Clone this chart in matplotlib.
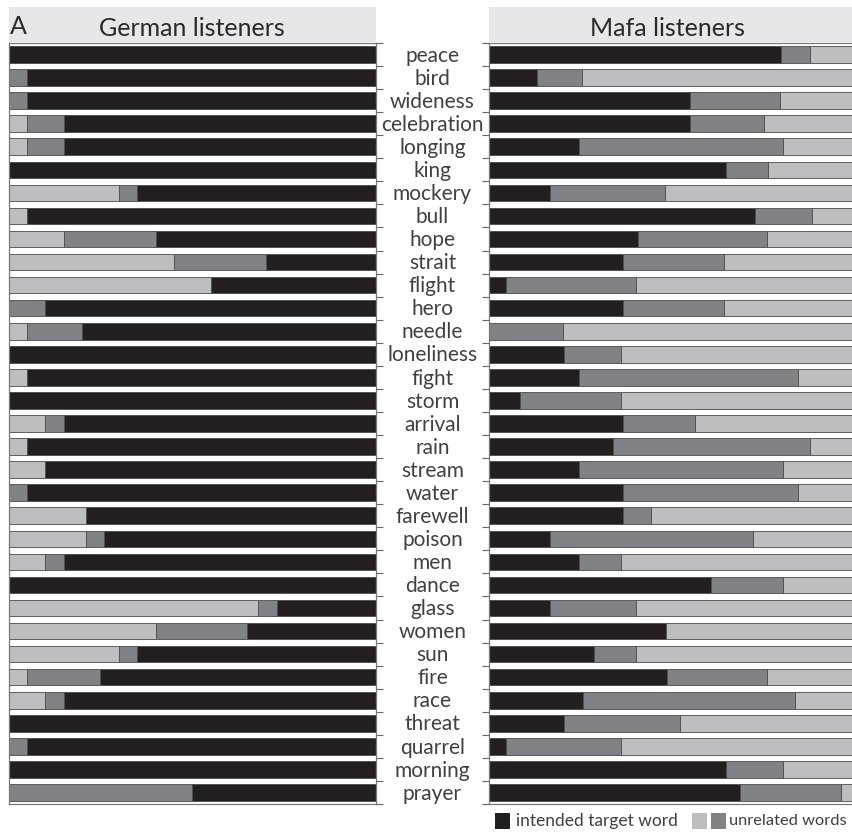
import matplotlib
matplotlib.use("Agg")
import matplotlib.pyplot as plt
from matplotlib.patches import Rectangle
from matplotlib.transforms import blended_transform_factory

words = ["peace", "bird", "wideness", "celebration", "longing", "king", "mockery",
         "bull", "hope", "strait", "flight", "hero", "needle", "loneliness", "fight",
         "storm", "arrival", "rain", "stream", "water", "farewell", "poison", "men",
         "dance", "glass", "women", "sun", "fire", "race", "threat", "quarrel",
         "morning", "prayer"]

german_target = [100, 95, 95, 85, 85, 100, 65, 95, 60, 30, 45, 90, 80, 100, 95,
                 100, 85, 95, 90, 95, 79, 74, 85, 100, 27, 35, 65, 75, 85, 100, 95,
                 100, 50]
german_dark = [0, 5, 5, 10, 10, 0, 5, 0, 25, 25, 0, 10, 15, 0, 0,
               0, 5, 0, 0, 5, 0, 5, 5, 0, 5, 25, 5, 20, 5, 0, 5,
               0, 50]
german_light = [0, 0, 0, 5, 5, 0, 30, 5, 15, 45, 55, 0, 5, 0, 5,
                0, 10, 5, 10, 0, 21, 21, 10, 0, 68, 40, 30, 5, 10, 0, 0,
                0, 0]

mafa_target = [80.4, 13.1, 55.2, 55.2, 24.6, 65.2, 16.6, 73.2, 40.9, 36.8, 4.6,
               36.8, 0.0, 20.5, 24.6, 8.5, 36.8, 34.0, 24.6, 36.8, 36.8, 16.6,
               24.6, 61.0, 16.6, 48.6, 28.8, 48.9, 25.7, 20.5, 4.6, 65.2, 69.1]
mafa_dark = [8.1, 12.4, 24.9, 20.6, 56.3, 11.6, 31.9, 15.9, 35.8, 28.0, 35.8,
             28.0, 20.2, 15.9, 60.4, 27.9, 19.9, 54.5, 56.3, 48.3, 7.7, 56.2,
             11.8, 19.9, 23.8, 0.0, 11.7, 27.8, 58.5, 32.0, 31.8, 15.7, 27.9]
mafa_light = [100 - t - d for t, d in zip(mafa_target, mafa_dark)]

panel_titles = ["German listeners", "Mafa listeners"]
legend_labels = ["intended target word", "unrelated words"]

C_BLACK = "#231f20"
C_DARK = "#808285"
C_LIGHT = "#bcbec0"
C_TITLE = "#e6e7e8"
C_TEXT = "#404040"
FONT = ["Lato", "DejaVu Sans"]

W, H = 852, 834
fig = plt.figure(figsize=(W / 100, H / 100), dpi=100)

def fx(px):
    return px / W

def fy(py):
    return 1 - py / H

ax_top, ax_bot = 43, 804
ax1 = fig.add_axes([fx(8.7), fy(ax_bot), fx(375.7) - fx(8.7), fy(ax_top) - fy(ax_bot)])
ax2 = fig.add_axes([fx(489.3), fy(ax_bot), fx(852) - fx(489.3), fy(ax_top) - fy(ax_bot)])

n = len(words)
ypos = [i + 0.5 for i in range(n)]
bh = 0.72
ekw = dict(edgecolor="#4a4a4a", linewidth=0.6)

# German: black anchored at right edge (inverted x axis)
ax1.barh(ypos, german_target, height=bh, color=C_BLACK, **ekw)
ax1.barh(ypos, german_dark, left=german_target, height=bh, color=C_DARK, **ekw)
left_l = [t + d for t, d in zip(german_target, german_dark)]
ax1.barh(ypos, german_light, left=left_l, height=bh, color=C_LIGHT, **ekw)
ax1.set_xlim(100, 0)

# Mafa
ax2.barh(ypos, mafa_target, height=bh, color=C_BLACK, **ekw)
ax2.barh(ypos, mafa_dark, left=mafa_target, height=bh, color=C_DARK, **ekw)
left_m = [t + d for t, d in zip(mafa_target, mafa_dark)]
ax2.barh(ypos, mafa_light, left=left_m, height=bh, color=C_LIGHT, **ekw)
ax2.set_xlim(0, 100)

for ax in (ax1, ax2):
    ax.set_ylim(n, 0)
    ax.set_xticks([])
    ax.set_yticks(range(n + 1))
    ax.set_yticklabels([])
    ax.tick_params(axis="y", length=5.2, width=0.8, color="#666666")
    for s in ax.spines.values():
        s.set_color("#7a7a7a")
        s.set_linewidth(0.9)
    ax.spines["top"].set_visible(False)

ax1.yaxis.tick_right()
ax2.spines["right"].set_visible(False)

# title boxes
for (x0, x1), title, cx in zip([(8.7, 375.7), (489.3, 852)], panel_titles, [192, 667]):
    fig.patches.append(Rectangle((fx(x0), fy(42)), fx(x1) - fx(x0), fy(7) - fy(42),
                                 transform=fig.transFigure, facecolor=C_TITLE,
                                 edgecolor="none", zorder=0))
    fig.lines.append(plt.Line2D([fx(x0), fx(x1)], [fy(42.5), fy(42.5)],
                                transform=fig.transFigure, color="#7a7a7a", lw=0.9))
    fig.text(fx(cx), fy(36), title, ha="center", va="baseline", fontsize=18,
             family=FONT, color="#2a2a2a")

fig.text(fx(10), fy(34), "A", ha="left", va="baseline", fontsize=18,
         family=FONT, color="#2a2a2a")

# word labels in the middle
tr = blended_transform_factory(fig.transFigure, ax1.transData)
for y, w in zip(ypos, words):
    fig.text(fx(432.5), y + 0.05, w, transform=tr, ha="center", va="center",
             fontsize=15, family=FONT, color=C_TEXT)

# legend
sq = 15
for x0, c in [(495, C_BLACK), (692, C_LIGHT), (711, C_DARK)]:
    fig.patches.append(Rectangle((fx(x0), fy(829)), fx(x0 + sq) - fx(x0), fy(813) - fy(829),
                                 transform=fig.transFigure, facecolor=c, edgecolor="none"))
fig.text(fx(516), fy(821), legend_labels[0], ha="left", va="center", fontsize=12.5,
         family=FONT, color=C_TEXT)
fig.text(fx(729), fy(821), legend_labels[1], ha="left", va="center", fontsize=11.8,
         family=FONT, color=C_TEXT)

fig.savefig("out.png", dpi=100, facecolor="white")
